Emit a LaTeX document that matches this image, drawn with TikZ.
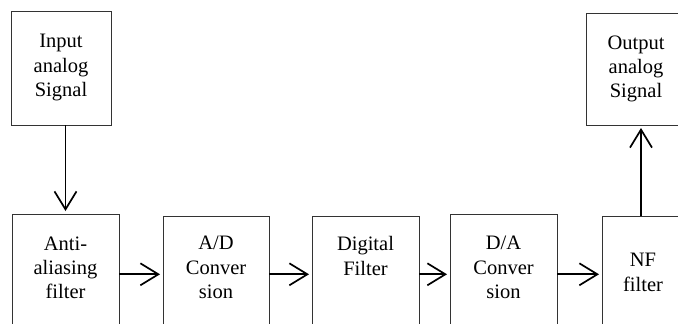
\documentclass[tikz,border=0pt]{standalone}
\usepackage{fontspec}
\setmainfont{Liberation Serif}
\usetikzlibrary{arrows.meta}
\begin{document}
\begin{tikzpicture}[x=1pt,y=-1pt,
  box/.style={draw=black!80, line width=0.9pt, inner sep=0pt, outer sep=0pt, rectangle},
  txt/.style={align=center, inner sep=0pt, font=\fontsize{20.5}{24.3}\selectfont},
  arr/.style={line width=1.7pt, -{Straight Barb[length=18pt,width=22pt,line width=1.7pt]}, shorten >=3pt}]
\useasboundingbox (0,0) rectangle (678,324);
\clip (0,0) rectangle (678,324);
% boxes
\node[box, minimum width=100pt, minimum height=114pt] (in) at (61,68) {};
\node[box, minimum width=100pt, minimum height=112pt] (out) at (636,69) {};
\node[box, minimum width=107pt, minimum height=112pt] (aa) at (65.5,270) {};
\node[box, minimum width=106pt, minimum height=110pt] (ad) at (216,271) {};
\node[box, minimum width=107pt, minimum height=110pt] (df) at (365.5,271) {};
\node[box, minimum width=107pt, minimum height=112pt] (da) at (503.5,270) {};
\node[box, minimum width=82pt, minimum height=110pt] (nf) at (643,271) {};
% texts
\node[txt] (tin) at (61,67.5) {Input\\analog\\Signal};
\node[txt] (tout) at (636,69) {Output\\analog\\Signal};
\node[txt] (taa) at (65.5,267.7) {Anti-\\aliasing\\filter};
\node[txt] (tad) at (216,267.4) {A/D\\Conver\\sion};
\node[txt] (tdf) at (365.5,256) {Digital\\Filter};
\node[txt] (tda) at (503.5,267.4) {D/A\\Conver\\sion};
\node[txt] (tnf) at (643,272.3) {NF\\filter};
% connector helpers
\coordinate (row) at (0,274.3);
\coordinate (upx) at (641,0);
% connectors
\draw[arr] (in.south -| aa.north) -- (aa.north);
\draw[arr] (aa.east |- row) -- (ad.west |- row);
\draw[arr] (ad.east |- row) -- (df.west |- row);
\draw[arr] (df.east |- row) -- (da.west |- row);
\draw[arr] (da.east |- row) -- (nf.west |- row);
\draw[arr] (nf.north -| upx) -- (out.south -| upx);
\end{tikzpicture}
\end{document}
